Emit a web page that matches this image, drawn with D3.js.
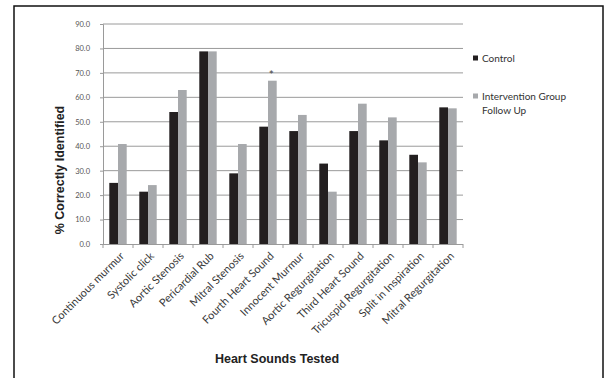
<!DOCTYPE html>
<html><head><meta charset="utf-8">
<script src="https://cdn.jsdelivr.net/npm/d3@7"></script>
<style>body{margin:0;background:#fff}svg{display:block}</style>
</head><body><svg id="c" width="610" height="378"></svg>
<script>
const categories = ["Continuous murmur","Systolic click","Aortic Stenosis","Pericardial Rub","Mitral Stenosis","Fourth Heart Sound","Innocent Murmur","Aortic Regurgitation","Third Heart Sound","Tricuspid Regurgitation","Split in Inspiration","Mitral Regurgitation"];
const controlValues = [25.0,21.4,54.0,78.8,28.9,48.0,46.2,32.9,46.2,42.4,36.5,55.9];
const interventionValues = [40.9,24.1,63.0,78.8,40.9,66.8,52.8,21.4,57.4,51.8,33.4,55.5];
const seriesNames = ["Control","Intervention Group Follow Up"];
const yTicks = [0,10,20,30,40,50,60,70,80,90];
const significant = ["Fourth Heart Sound"];

const svg = d3.select("#c");
const L = 103, R = 463, T = 24, B = 244;
const colors = ["#231f20","#a7a9ac"];
const font = "Lato, 'Open Sans', sans-serif";

// outer frame
svg.append("rect").attr("x",14).attr("y",6).attr("width",589).attr("height",380)
  .attr("fill","none").attr("stroke","#111").attr("stroke-width",1.5);

const x = d3.scaleBand().domain(categories).range([L,R]).paddingInner(0.42).paddingOuter(0.21);
const xs = d3.scaleBand().domain([0,1]).range([0,x.bandwidth()]);
const y = d3.scaleLinear().domain([0,90]).range([B,T]);

// gridlines
svg.append("g").selectAll("line").data(yTicks.filter(d=>d>0)).join("line")
  .attr("x1",L).attr("x2",R).attr("y1",d=>y(d)).attr("y2",d=>y(d))
  .attr("stroke","#9a9a9a").attr("stroke-width",1);

// y axis
const ya = svg.append("g").attr("transform",`translate(${L},0)`)
  .call(d3.axisLeft(y).tickValues(yTicks).tickFormat(d3.format(".1f")).tickSize(3).tickPadding(10));
ya.select(".domain").attr("stroke","#9a9a9a");
ya.selectAll(".tick line").attr("stroke","#9a9a9a");
ya.selectAll(".tick text").attr("fill","#555").style("font-family",font).style("font-size","7.5px");

// bars
const series = [controlValues, interventionValues];
series.forEach((vals,si)=>{
  svg.append("g").selectAll("rect").data(categories).join("rect")
    .attr("x",(c)=>x(c)+xs(si)).attr("width",xs.bandwidth())
    .attr("y",(c,i)=>y(vals[i])).attr("height",(c,i)=>B-y(vals[i]))
    .attr("fill",colors[si]);
});

// x axis line and boundary ticks
svg.append("line").attr("x1",L).attr("x2",R).attr("y1",B+0.5).attr("y2",B+0.5).attr("stroke","#9a9a9a");
const bounds = categories.map(c=>x(c)-x.step()*x.paddingInner()/2).concat([R]);
bounds[0]=L;
svg.append("g").selectAll("line").data(bounds).join("line")
  .attr("x1",d=>d).attr("x2",d=>d).attr("y1",B).attr("y2",B+4).attr("stroke","#9a9a9a");

// x labels
svg.append("g").selectAll("text").data(categories).join("text")
  .attr("transform",c=>`translate(${x(c)+x.bandwidth()/2+4},${B+10}) rotate(-45)`)
  .attr("text-anchor","end").attr("dy","0.35em")
  .attr("fill","#3a3a3a").style("font-family",font).style("font-size","11px")
  .text(c=>c);

// significance asterisk
svg.append("g").selectAll("text").data(significant).join("text")
  .attr("x",c=>x(c)+xs(1)+xs.bandwidth()/2 - 1)
  .attr("y",c=>y(interventionValues[categories.indexOf(c)])-2)
  .attr("text-anchor","middle").attr("fill","#444").style("font-family",font).style("font-size","12px")
  .text("*");

// axis titles
svg.append("text").attr("transform",`translate(64,170) rotate(-90)`)
  .attr("text-anchor","middle").attr("fill","#222").style("font-family","'Liberation Sans', Arial, sans-serif")
  .style("font-size","12.5px").style("font-weight","bold").text("% Correctly Identified");
svg.append("text").attr("x",277).attr("y",363).attr("text-anchor","middle").attr("fill","#222")
  .style("font-family","'Liberation Sans', Arial, sans-serif").style("font-size","12.5px").style("font-weight","bold")
  .text("Heart Sounds Tested");

// legend
const leg = svg.append("g");
const legY = [58, 96];
seriesNames.forEach((n,i)=>{
  leg.append("rect").attr("x",473).attr("y",legY[i]-2.5).attr("width",5).attr("height",5).attr("fill",colors[i]);
});
leg.append("text").attr("x",482).attr("y",legY[0]).attr("dy","0.35em").attr("fill","#333")
  .style("font-family",font).style("font-size","10px").text(seriesNames[0]);
const t2 = leg.append("text").attr("x",482).attr("y",legY[1]).attr("dy","0.35em").attr("fill","#333")
  .style("font-family",font).style("font-size","10px");
t2.append("tspan").attr("x",482).text("Intervention Group");
t2.append("tspan").attr("x",482).attr("dy","14px").text("Follow Up");
</script></body></html>
